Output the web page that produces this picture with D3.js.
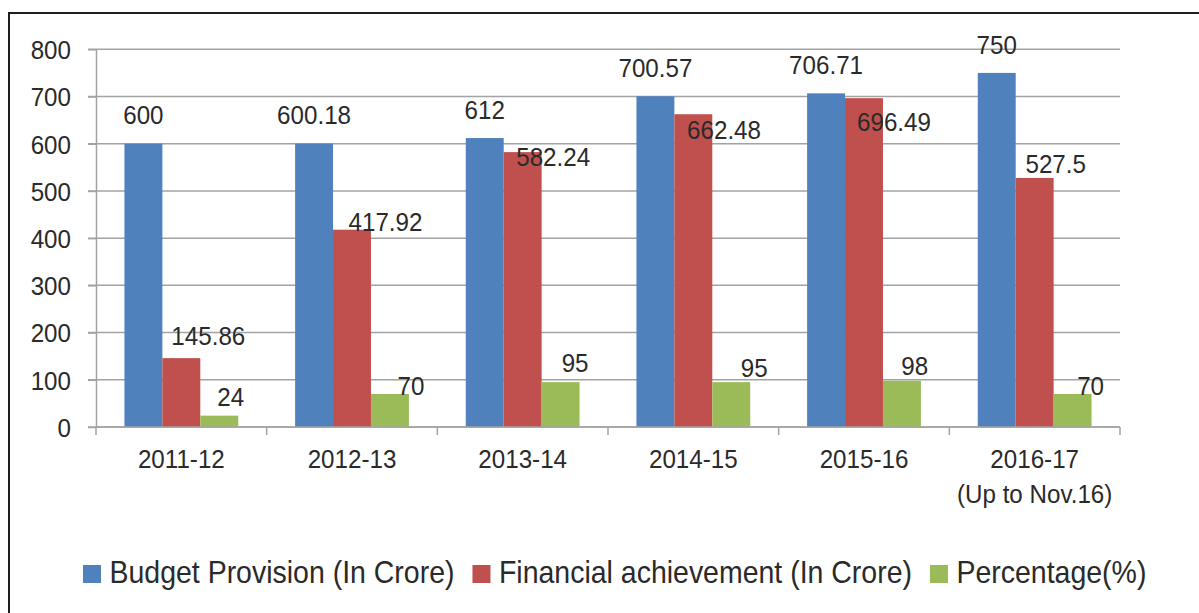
<!DOCTYPE html>
<html>
<head>
<meta charset="utf-8">
<script src="https://cdn.jsdelivr.net/npm/d3@7"></script>
<style>
  body { margin: 0; background: #fff; }
  text { font-family: "Liberation Sans", Arial, sans-serif; fill: #2a2a2a; }
</style>
</head>
<body>
<svg id="chart" width="1199" height="613"></svg>
<script>
// ---------------- data ----------------
const categories = ["2011-12", "2012-13", "2013-14", "2014-15", "2015-16", "2016-17"];
const categorySubLabels = ["", "", "", "", "", "(Up to Nov.16)"];
const budgetProvision = [600, 600.18, 612, 700.57, 706.71, 750];
const financialAchievement = [145.86, 417.92, 582.24, 662.48, 696.49, 527.5];
const percentage = [24, 70, 95, 95, 98, 70];
const seriesNames = ["Budget Provision (In Crore)", "Financial achievement (In Crore)", "Percentage(%)"];
const yTicks = [0, 100, 200, 300, 400, 500, 600, 700, 800];

// ---------------- layout / style ----------------
const seriesKeys = ["budget", "achievement", "percentage"];
const seriesValues = [budgetProvision, financialAchievement, percentage];
const colors = ["#4F81BD", "#C0504D", "#9BBB59"];
// manual label nudges (dx, dy) as placed in the original chart
const labelNudges = [
  [[0,0],[0,0],[0,0],[0,0],[0,0],[0,0]],
  [[27,6.6],[33.5,21],[30.5,33],[30.7,44],[30,52.5],[21,14.3]],
  [[11.5,9.3],[21,20.7],[14.5,9.2],[23,14.2],[12.7,14],[18,20.7]]
];
const plotFont = 26, plotSqueeze = 0.93;
const legendFont = 32, legendSqueeze = 0.89;

const svg = d3.select("#chart");

// outer frame
svg.append("rect")
  .attr("x", 9).attr("y", 13).attr("width", 1300).attr("height", 700)
  .attr("fill", "#fff").attr("stroke", "#1e1e1e").attr("stroke-width", 2);

const pLeft = 96, pRight = 1120, pTop = 49.3, pBottom = 427;
const y = d3.scaleLinear().domain([0, 800]).range([pBottom, pTop]);
const x0 = d3.scaleBand().domain(categories).range([pLeft, pRight]).paddingInner(0).paddingOuter(0);
const x1 = d3.scaleBand().domain(seriesKeys).range([0, x0.bandwidth()]).paddingInner(0).paddingOuter(0.75);

const gridColor = "#a3a3a3";

// gridlines
svg.append("g").selectAll("line").data(yTicks).join("line")
  .attr("x1", pLeft - 8).attr("x2", pRight)
  .attr("y1", d => y(d)).attr("y2", d => y(d))
  .attr("stroke", gridColor).attr("stroke-width", 1.5);

// y axis
const yAxis = svg.append("g").attr("transform", `translate(${pLeft},0)`)
  .call(d3.axisLeft(y).tickValues(yTicks).tickSizeInner(8).tickSizeOuter(0).tickPadding(17));
yAxis.attr("font-family", null).attr("font-size", null);
yAxis.select(".domain").attr("stroke", gridColor).attr("stroke-width", 1.5);
yAxis.selectAll(".tick line").attr("stroke", gridColor).attr("stroke-width", 1.5);
yAxis.selectAll(".tick text")
  .attr("font-size", plotFont).attr("fill", "#2a2a2a")
  .attr("dy", "0.36em")
  .each(function() {
    const t = d3.select(this);
    const xx = +t.attr("x");
    t.attr("x", 0).attr("transform", `translate(${xx},0) scale(${plotSqueeze},1)`);
  });

// bars
const groups = svg.append("g").selectAll("g").data(categories).join("g")
  .attr("transform", d => `translate(${x0(d)},0)`);
groups.selectAll("rect")
  .data((c, j) => seriesKeys.map((k, i) => ({ k, i, v: seriesValues[i][j] })))
  .join("rect")
  .attr("x", d => x1(d.k)).attr("width", x1.bandwidth())
  .attr("y", d => y(d.v)).attr("height", d => y(0) - y(d.v))
  .attr("fill", d => colors[d.i]);

// x axis line and boundary ticks
svg.append("line").attr("x1", pLeft).attr("x2", pRight).attr("y1", y(0)).attr("y2", y(0))
  .attr("stroke", gridColor).attr("stroke-width", 1.5);
const boundaries = categories.map(c => x0(c)).concat([x0(categories[categories.length - 1]) + x0.bandwidth()]);
svg.append("g").selectAll("line").data(boundaries).join("line")
  .attr("x1", d => d).attr("x2", d => d).attr("y1", y(0)).attr("y2", y(0) + 8)
  .attr("stroke", gridColor).attr("stroke-width", 1.5);

// category labels
const catG = svg.append("g").selectAll("g").data(categories).join("g")
  .attr("transform", d => `translate(${x0(d) + x0.bandwidth() / 2},${y(0) + 41.3}) scale(${plotSqueeze},1)`);
catG.append("text").attr("text-anchor", "middle").attr("font-size", plotFont).text(d => d);
catG.append("text").attr("text-anchor", "middle").attr("font-size", plotFont).attr("y", 35)
  .text((d, j) => categorySubLabels[j]);

// data labels
const labels = [];
seriesKeys.forEach((k, i) => {
  categories.forEach((c, j) => {
    labels.push({ k, i, j, c, v: seriesValues[i][j] });
  });
});
svg.append("g").selectAll("text").data(labels).join("text")
  .attr("text-anchor", "middle").attr("font-size", plotFont)
  .attr("transform", d => {
    const cx = x0(d.c) + x1(d.k) + x1.bandwidth() / 2 + labelNudges[d.i][d.j][0];
    const by = y(d.v) - 19.3 + labelNudges[d.i][d.j][1];
    return `translate(${cx},${by}) scale(${plotSqueeze},1)`;
  })
  .text(d => String(d.v));

// legend
const legend = svg.append("g");
let lx = 83;
const legendBase = 583.3;
seriesNames.forEach((name, i) => {
  legend.append("rect").attr("x", lx).attr("y", legendBase - 18.3).attr("width", 18).attr("height", 18)
    .attr("fill", colors[i]);
  const tx = lx + 26.5;
  const t = legend.append("text").attr("font-size", legendFont)
    .attr("transform", `translate(${tx},${legendBase}) scale(${legendSqueeze},1)`)
    .text(name);
  const w = t.node().getComputedTextLength() * legendSqueeze;
  lx = tx + w + 18;
});
</script>
</body>
</html>
